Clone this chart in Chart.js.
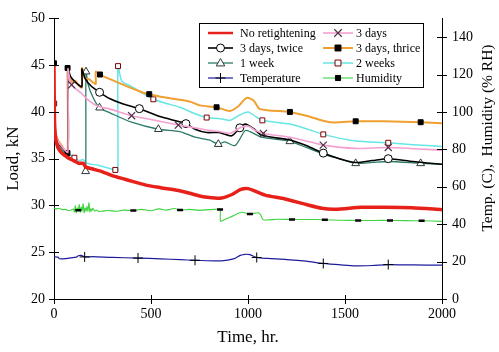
<!DOCTYPE html>
<html>
<head>
<meta charset="utf-8">
<script src="https://cdn.jsdelivr.net/npm/chart.js@4/dist/chart.umd.min.js"></script>
<style>
  html, body { margin: 0; padding: 0; background: #fff; }
  #wrap { width: 499px; height: 352px; }
</style>
</head>
<body>
<div id="wrap"><canvas id="c" width="499" height="352"></canvas></div>
<script>
// ─── Data ────────────────────────────────────────────

// No retightening
const NR_T = [0, 1, 3, 8, 20, 40, 72, 100, 130, 150, 165, 200, 250, 300, 366, 400, 469, 550, 641, 700, 778, 864, 920, 960, 1001, 1040, 1088, 1191, 1300, 1380, 1450, 1586, 1700, 1843, 2000];
const NR_Y = [45.0, 41.8, 38.8, 37.2, 36.2, 35.6, 35.1, 34.8, 34.5, 34.5, 34.1, 33.9, 33.6, 33.2, 32.8, 32.6, 32.2, 31.9, 31.6, 31.3, 30.9, 30.8, 31.2, 31.7, 31.8, 31.5, 31.1, 30.7, 30.1, 29.7, 29.6, 29.8, 29.8, 29.75, 29.55];

// 3 days
const D3_T  = [0, 1, 3, 8, 20, 40, 71.5, 72, 80, 91, 110, 141, 180, 227, 289, 400, 500, 641, 700, 780, 850, 907, 960, 1000, 1040, 1079, 1216, 1300, 1388, 1555, 1723, 2000];
const D3_Y  = [45.0, 42.2, 39.3, 37.8, 36.9, 36.3, 35.7, 44.6, 43.6, 42.9, 42.5, 42.0, 41.2, 40.6, 40.3, 39.6, 39.2, 38.6, 38.4, 38.1, 37.9, 37.7, 38.3, 38.5, 38.0, 37.7, 37.3, 36.9, 36.45, 36.1, 36.2, 35.9];
const D3_MK = [91, 400, 641, 1079, 1388, 1723];

// 3 days, twice
const D3X2_T  = [0, 1, 3, 8, 20, 40, 71.5, 72, 85, 100, 120, 143.5, 144, 160, 190, 235, 289, 350, 440, 546, 680, 727, 787, 850, 916, 958, 985, 1030, 1070, 1216, 1300, 1388, 1470, 1555, 1640, 1723, 1850, 2000];
const D3X2_Y  = [45.0, 42.0, 39.2, 37.7, 36.8, 36.2, 35.6, 44.6, 43.8, 43.4, 43.0, 42.7, 44.6, 43.6, 42.8, 42.1, 41.4, 40.9, 40.35, 39.5, 38.75, 38.15, 37.8, 37.8, 37.45, 38.3, 38.7, 38.2, 37.5, 37.0, 36.4, 35.6, 35.0, 34.6, 34.8, 35.0, 34.7, 34.4];
const D3X2_MK = [235, 440, 680, 958, 1388, 1723];

// 3 days, thrice
const D3X3_T  = [0, 1, 3, 8, 20, 40, 69.5, 70, 78, 85, 95, 110, 125, 143.5, 144, 160, 180, 205, 215.5, 216, 237, 289, 380, 460, 491, 560, 632, 700, 753, 838, 907, 950, 993, 1030, 1062, 1216, 1300, 1423, 1555, 1700, 1890, 2000];
const D3X3_Y  = [45.2, 42.3, 39.4, 37.9, 37.0, 36.4, 35.6, 44.7, 43.4, 43.6, 43.1, 43.3, 42.9, 42.6, 44.7, 43.6, 43.5, 43.1, 43.0, 44.3, 44.0, 43.5, 42.7, 42.05, 41.9, 41.6, 41.35, 41.1, 40.7, 40.5, 40.1, 40.6, 41.5, 41.2, 40.3, 40.0, 39.6, 38.9, 39.0, 39.0, 38.9, 38.8];
const D3X3_MK = [0, 69.5, 70, 237, 491, 838, 1216, 1555, 1890];

// 1 week
const W1_T  = [0, 1, 3, 8, 20, 40, 72, 100, 130, 150, 163, 165, 175, 200, 235, 289, 400, 538, 649, 727, 800, 847, 880, 933, 985, 1010, 1070, 1216, 1300, 1388, 1470, 1555, 1640, 1723, 1890, 2000];
const W1_Y  = [45.0, 41.9, 39.1, 37.5, 36.5, 35.9, 35.3, 34.8, 34.4, 34.6, 33.65, 44.3, 43.0, 41.6, 40.45, 39.9, 38.9, 38.15, 37.9, 37.3, 37.0, 36.55, 36.8, 36.4, 38.0, 37.9, 37.3, 36.85, 36.2, 35.5, 35.0, 34.5, 34.6, 34.7, 34.5, 34.4];
const W1_MK = [163, 165, 235, 538, 847, 1216, 1555, 1890];

// 2 weeks
const W2_T  = [0, 1, 3, 8, 20, 50, 105, 130, 150, 170, 227, 280, 316, 329, 330, 349, 392, 450, 512, 580, 649, 727, 787, 850, 907, 960, 1001, 1040, 1074, 1216, 1300, 1388, 1470, 1555, 1723, 1850, 2000];
const W2_Y  = [45.0, 40.9, 39.0, 37.6, 36.8, 36.0, 35.1, 34.8, 34.9, 34.5, 34.3, 34.0, 33.8, 33.75, 44.9, 43.3, 42.8, 42.1, 41.35, 40.9, 40.5, 39.8, 39.4, 39.3, 39.1, 39.7, 40.0, 39.5, 39.1, 38.7, 38.2, 37.6, 37.2, 36.9, 36.7, 36.5, 36.3];
const W2_MK = [1, 105, 316, 330, 512, 787, 1074, 1388, 1723];

// Temperature (C), right axis
const TEMP_T  = [0, 20, 28, 60, 90, 115, 125, 140, 158, 200, 300, 433, 550, 650, 727, 864, 930, 960, 985, 1010, 1045, 1100, 1200, 1300, 1388, 1480, 1555, 1640, 1723, 1850, 2000];
const TEMP_Y  = [22.6, 22.4, 21.5, 21.6, 22.0, 22.4, 23.1, 23.3, 22.5, 22.6, 22.2, 21.9, 21.5, 21.0, 20.7, 20.4, 21.6, 23.3, 23.9, 23.7, 22.2, 21.7, 21.1, 20.2, 19.0, 18.2, 17.7, 17.9, 18.4, 18.2, 18.1];
const TEMP_MK = [158, 433, 727, 1045, 1388, 1723];

// Humidity (% RH), right axis
const HUM_T  = [0, 10, 25, 45, 60, 75, 90, 100, 105, 110, 115, 120, 125, 130, 135, 140, 145, 150, 155, 160, 165, 170, 175, 180, 185, 190, 195, 200, 210, 220, 230, 250, 280, 320, 360, 409, 450, 500, 540, 580, 620, 650, 700, 750, 800, 830, 856, 858, 880, 920, 967, 1010, 1053, 1065, 1079, 1150, 1227, 1300, 1396, 1480, 1568, 1650, 1732, 1810, 1895, 2000];
const HUM_Y  = [48.6, 48.2, 48.4, 47.8, 47.9, 47.2, 47.6, 48.1, 46.5, 49.8, 46.0, 48.6, 47.5, 50.5, 46.4, 49.2, 47.0, 50.9, 46.2, 48.8, 46.9, 49.6, 47.0, 51.5, 46.6, 48.3, 47.0, 48.5, 47.1, 47.6, 46.8, 47.0, 47.3, 46.9, 47.5, 47.3, 47.9, 47.2, 48.2, 47.5, 48.4, 47.6, 47.9, 47.4, 47.8, 47.9, 47.9, 41.6, 42.5, 44.3, 46.4, 45.4, 46.1, 45.0, 42.4, 42.6, 42.55, 42.5, 42.4, 42.1, 42.0, 42.0, 42.0, 41.9, 41.8, 41.5];
const HUM_MK = [125, 409, 650, 856, 1010, 1227, 1396, 1568, 1732, 1895];

// Axis ticks
const X_MIN = 0, X_MAX = 2000, X_STEP = 500;
const LOAD_MIN = 20, LOAD_MAX = 50, LOAD_STEP = 5;
const RIGHT_MIN = 0, RIGHT_MAX = 150, RIGHT_STEP = 20, RIGHT_LAST = 140;

// ─── Helpers ─────────────────────────────────────────

const SERIF = '"Liberation Serif", "Times New Roman", serif';

function pts(T, Y) {
  return T.map((t, i) => ({ x: t, y: Y[i] }));
}

function series(label, T, Y, MK, st) {
  const mk = MK || [];
  return {
    label,
    data: pts(T, Y),
    yAxisID: st.axis || 'y',
    borderColor: st.color,
    borderWidth: st.width,
    tension: 0.25,
    fill: false,
    pointStyle: st.marker || 'circle',
    pointRadius: T.map(t => mk.includes(t) ? (st.r || 4) : 0),
    pointBackgroundColor: st.mFill || '#fff',
    pointBorderColor: st.mStroke || '#000',
    pointBorderWidth: st.mWidth || 1,
    // for the legend plugin
    _mk: mk.length ? st : null,
  };
}

// small marker painter for the legend
function drawMarker(ctx, st, x, y) {
  const r = st.r || 4;
  ctx.save();
  ctx.fillStyle = st.mFill || '#fff';
  ctx.strokeStyle = st.mStroke || '#000';
  ctx.lineWidth = st.legendMarker ? 1 : (st.mWidth || 1);
  ctx.beginPath();
  switch (st.legendMarker || st.marker) {
    case 'circle':
      ctx.arc(x, y, r, 0, Math.PI * 2); ctx.fill(); ctx.stroke(); break;
    case 'rect':
      ctx.rect(x - r * 0.85, y - r * 0.85, r * 1.7, r * 1.7); ctx.fill(); ctx.stroke(); break;
    case 'triangle':
      ctx.moveTo(x, y - r); ctx.lineTo(x + r * 0.95, y + r * 0.65); ctx.lineTo(x - r * 0.95, y + r * 0.65);
      ctx.closePath(); ctx.fill(); ctx.stroke(); break;
    case 'cross':
      ctx.moveTo(x - r, y); ctx.lineTo(x + r, y); ctx.moveTo(x, y - r); ctx.lineTo(x, y + r); ctx.stroke(); break;
    case 'crossRot':
      const d = r * 0.75;
      ctx.moveTo(x - d, y - d); ctx.lineTo(x + d, y + d); ctx.moveTo(x + d, y - d); ctx.lineTo(x - d, y + d); ctx.stroke(); break;
  }
  ctx.restore();
}

// ─── Styles ──────────────────────────────────────────

const ST = {
  nr:   { color: '#e8201a', width: 3.5 },
  d3:   { color: '#f5a0d0', width: 1.6, marker: 'crossRot', r: 5, mStroke: '#4a3045', mWidth: 1.2 },
  d3x2: { color: '#000000', width: 1.6, marker: 'circle', r: 4, mFill: '#fff', mStroke: '#000' },
  d3x3: { color: '#f0a030', width: 2, marker: 'rect', r: 3.5, mFill: '#000', mStroke: '#000' },
  w1:   { color: '#2b7a68', width: 1.3, marker: 'triangle', r: 4.5, mFill: '#fff', mStroke: '#2a3a36' },
  w2:   { color: '#66e6e6', width: 1.5, marker: 'rect', r: 3.5, mFill: '#fff', mStroke: '#7a0000' },
  temp: { color: '#1c1c9c', width: 1.2, marker: 'cross', r: 5, mStroke: '#000', axis: 'y2' },
  hum:  { color: '#3fd43f', width: 1.1, marker: 'line', legendMarker: 'rect', r: 3, mFill: '#000', mStroke: '#000', mWidth: 2.5, axis: 'y2' },
};

const datasets = [
  series('No retightening', NR_T, NR_Y, null, ST.nr),
  series('3 days', D3_T, D3_Y, D3_MK, ST.d3),
  series('3 days, twice', D3X2_T, D3X2_Y, D3X2_MK, ST.d3x2),
  series('3 days, thrice', D3X3_T, D3X3_Y, D3X3_MK, ST.d3x3),
  series('1 week', W1_T, W1_Y, W1_MK, ST.w1),
  series('2 weeks', W2_T, W2_Y, W2_MK, ST.w2),
  series('Temperature', TEMP_T, TEMP_Y, TEMP_MK, ST.temp),
  series('Humidity', HUM_T, HUM_Y, HUM_MK, ST.hum),
];

// ─── Plugins: crossing tick marks, right title, boxed legend ─

const frame = {
  id: 'frame',
  afterDraw(chart) {
    const ctx = chart.ctx;
    const { x, y, y2 } = chart.scales;
    const a = chart.chartArea;
    ctx.save();
    ctx.strokeStyle = '#000';
    ctx.lineWidth = 1;
    ctx.beginPath();
    x.ticks.forEach(t => {
      const px = Math.round(x.getPixelForValue(t.value)) + 0.5;
      ctx.moveTo(px, a.bottom - 4); ctx.lineTo(px, a.bottom + 5);
    });
    y.ticks.forEach(t => {
      const py = Math.round(y.getPixelForValue(t.value)) + 0.5;
      ctx.moveTo(a.left - 5, py); ctx.lineTo(a.left + 5, py);
    });
    y2.ticks.forEach(t => {
      const py = Math.round(y2.getPixelForValue(t.value)) + 0.5;
      ctx.moveTo(a.right - 5, py); ctx.lineTo(a.right + 5, py);
    });
    ctx.stroke();

    // right axis title reads bottom-to-top like the left one
    ctx.translate(488, 138);
    ctx.rotate(-Math.PI / 2);
    ctx.fillStyle = '#000';
    ctx.font = '15.5px ' + SERIF;
    ctx.textAlign = 'center';
    ctx.textBaseline = 'middle';
    ctx.fillText('Temp. (C),  Humidity (% RH)', 0, 0);
    ctx.restore();
  },
};

const boxLegend = {
  id: 'boxLegend',
  afterDraw(chart) {
    const ctx = chart.ctx;
    const box = { x: 199.5, y: 23.5, w: 224, h: 64 };
    const cols = [{ lx: 208, lw: 25, tx: 240 }, { lx: 323, lw: 30, tx: 356 }];
    const rows = [33, 48, 63, 78];
    ctx.save();
    ctx.fillStyle = '#fff';
    ctx.fillRect(box.x, box.y, box.w, box.h);
    ctx.strokeStyle = '#000';
    ctx.lineWidth = 1;
    ctx.strokeRect(box.x, box.y, box.w, box.h);
    ctx.font = '12px ' + SERIF;
    ctx.textBaseline = 'middle';
    chart.data.datasets.forEach((ds, i) => {
      const c = cols[i % 2], y = rows[Math.floor(i / 2)];
      ctx.strokeStyle = ds.borderColor;
      ctx.lineWidth = Math.min(ds.borderWidth, 2.5);
      ctx.beginPath();
      ctx.moveTo(c.lx, y); ctx.lineTo(c.lx + c.lw, y);
      ctx.stroke();
      if (ds._mk) drawMarker(ctx, ds._mk, c.lx + c.lw / 2, y);
      ctx.fillStyle = '#000';
      ctx.fillText(ds.label, c.tx, y + 0.5);
    });
    ctx.restore();
  },
};

// ─── Chart ───────────────────────────────────────────

const tickFont = { family: SERIF, size: 14 };
const axisGrid = { drawOnChartArea: false, drawTicks: false };
const axisBorder = { display: true, color: '#000', width: 1 };
const plain = v => String(v);

new Chart(document.getElementById('c'), {
  type: 'line',
  data: { datasets },
  plugins: [frame, boxLegend],
  options: {
    responsive: false,
    animation: false,
    events: [],
    layout: { padding: { top: 17, left: 0, right: 0, bottom: 0 } },
    plugins: { legend: { display: false }, tooltip: { enabled: false } },
    scales: {
      x: {
        type: 'linear', min: X_MIN, max: X_MAX,
        ticks: { stepSize: X_STEP, padding: 7, color: '#000', font: tickFont, maxRotation: 0, callback: plain },
        grid: axisGrid, border: axisBorder,
        title: { display: true, text: 'Time, hr.', color: '#000', font: { family: SERIF, size: 17 }, padding: { top: 0, bottom: 4 } },
        afterFit: s => { s.height = 53; },
      },
      y: {
        type: 'linear', position: 'left', min: LOAD_MIN, max: LOAD_MAX,
        ticks: { stepSize: LOAD_STEP, padding: 9, color: '#000', font: tickFont, callback: plain },
        grid: axisGrid, border: axisBorder,
        title: { display: true, text: 'Load, kN', color: '#000', font: { family: SERIF, size: 17 }, padding: { top: 3, bottom: 0 } },
        afterFit: s => { s.width = 54; },
      },
      y2: {
        type: 'linear', position: 'right', min: RIGHT_MIN, max: RIGHT_MAX,
        ticks: { stepSize: RIGHT_STEP, padding: 10, color: '#000', font: tickFont, callback: plain },
        afterBuildTicks: s => { s.ticks = s.ticks.filter(t => t.value <= RIGHT_LAST); },
        grid: axisGrid, border: axisBorder,
        afterFit: s => { s.width = 57; },
      },
    },
  },
});
</script>
</body>
</html>
